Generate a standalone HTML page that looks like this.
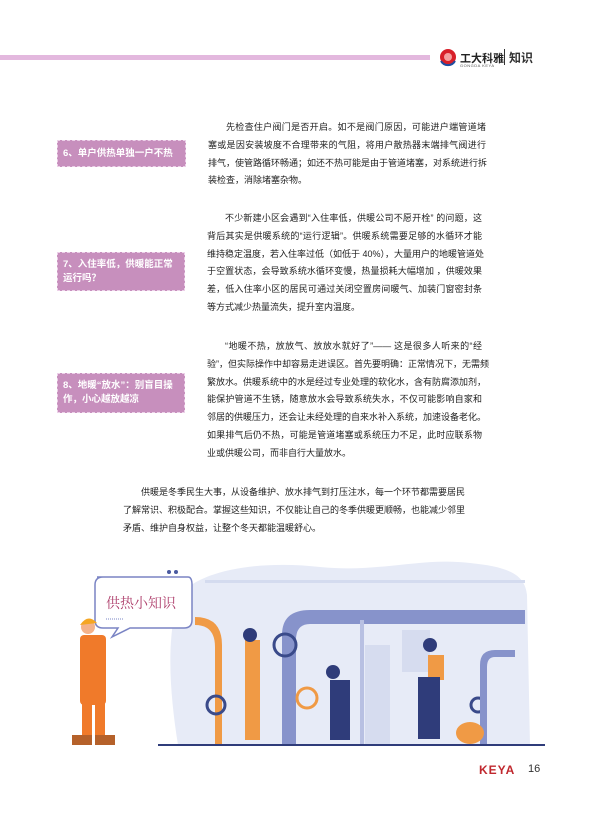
<!DOCTYPE html>
<html><head><meta charset="utf-8"><style>
body{margin:0;width:604px;height:825px;background:#fff;position:relative;overflow:hidden;font-family:"Liberation Sans","Noto Sans CJK SC",sans-serif;color:#333}
.bar{position:absolute;left:0;top:55px;width:430px;height:5px;background:#e3b8de}
.p{position:absolute;font-size:9px;line-height:17.8px;color:#222}
.p div{text-align:justify;text-align-last:justify;white-space:nowrap;overflow:visible}
.box{position:absolute;background:#c78fbd;color:#fff;font-size:9.5px;font-weight:bold;border:1.5px dashed #ecd0e8;box-sizing:border-box;padding:0 5px;line-height:14px;display:flex;align-items:center}
</style></head><body>
<div class="bar"></div>
<svg style="position:absolute;left:438px;top:46px" width="30" height="22"><circle cx="10" cy="11" r="8" fill="#d8202a"/><path d="M3 15 A8 8 0 0 0 17 15" stroke="#1f4da0" stroke-width="2" fill="none"/><circle cx="10" cy="11" r="4" fill="#f4a0a0"/></svg>
<div style="position:absolute;left:460px;top:50px;font-size:11px;font-weight:bold;color:#222">工大科雅</div>
<div style="position:absolute;left:460px;top:63px;font-size:4px;color:#555;letter-spacing:.5px">GONGDA KEYA</div>
<div style="position:absolute;left:504px;top:49px;width:1px;height:16px;background:#333"></div>
<div style="position:absolute;left:509px;top:49px;font-size:12px;font-weight:bold;color:#333">知识</div>

<div class="box" style="left:57px;top:140px;width:129px;height:27px">6、单户供热单独一户不热</div>
<div class="p" style="left:208px;top:119px;width:278px">
<div style="padding-left:18px">先检查住户阀门是否开启。如不是阀门原因，可能进户端管道堵</div>
<div>塞或是因安装坡度不合理带来的气阻，将用户散热器末端排气阀进行</div>
<div>排气，使管路循环畅通；如还不热可能是由于管道堵塞，对系统进行拆</div>
<div style="text-align-last:left">装检查，消除堵塞杂物。</div></div>

<div class="box" style="left:57px;top:252px;width:128px;height:39px">7、入住率低，供暖能正常运行吗？</div>
<div class="p" style="left:207px;top:210px;width:275px">
<div style="padding-left:18px">不少新建小区会遇到“入住率低，供暖公司不愿开栓” 的问题，这</div>
<div>背后其实是供暖系统的“运行逻辑”。供暖系统需要足够的水循环才能</div>
<div>维持稳定温度，若入住率过低（如低于 40%），大量用户的地暖管道处</div>
<div>于空置状态，会导致系统水循环变慢，热量损耗大幅增加 ，供暖效果</div>
<div>差，低入住率小区的居民可通过关闭空置房间暖气、加装门窗密封条</div>
<div style="text-align-last:left">等方式减少热量流失，提升室内温度。</div></div>

<div class="box" style="left:57px;top:373px;width:128px;height:40px">8、地暖“放水”：别盲目操作，小心越放越凉</div>
<div class="p" style="left:207px;top:338px;width:275px">
<div style="padding-left:18px">“地暖不热，放放气、放放水就好了”—— 这是很多人听来的“经</div>
<div>验”，但实际操作中却容易走进误区。首先要明确：正常情况下，无需频</div>
<div>繁放水。供暖系统中的水是经过专业处理的软化水，含有防腐添加剂，</div>
<div>能保护管道不生锈，随意放水会导致系统失水，不仅可能影响自家和</div>
<div>邻居的供暖压力，还会让未经处理的自来水补入系统，加速设备老化。</div>
<div>如果排气后仍不热，可能是管道堵塞或系统压力不足，此时应联系物</div>
<div style="text-align-last:left">业或供暖公司，而非自行大量放水。</div></div>

<div class="p" style="left:123px;top:484px;width:339px">
<div style="padding-left:18px">供暖是冬季民生大事，从设备维护、放水排气到打压注水，每一个环节都需要居民</div>
<div>了解常识、积极配合。掌握这些知识，不仅能让自己的冬季供暖更顺畅，也能减少邻里</div>
<div style="text-align-last:left">矛盾、维护自身权益，让整个冬天都能温暖舒心。</div></div>

<svg style="position:absolute;left:0;top:555px" width="604" height="200">
<path d="M180 40 C200 15 260 5 320 12 C380 18 420 2 470 8 C510 12 525 20 527 40 L530 190 L178 190 C170 140 165 80 180 40Z" fill="#e7ebf7"/>
<rect x="205" y="25" width="320" height="3" fill="#d4dbef"/>
<path d="M282 190 L282 80 Q282 55 310 55 L525 55 L525 69 L310 69 Q296 69 296 85 L296 190Z" fill="#8793cb"/>
<rect x="360" y="65" width="4" height="125" fill="#b8c0e2"/>
<rect x="365" y="90" width="25" height="100" fill="#d6dcef"/>
<rect x="402" y="75" width="28" height="42" fill="#d6dcef"/>
<path d="M195 62 Q222 62 222 90 L222 190 L215 190 L215 92 Q215 70 195 70Z" fill="#f09a45"/>
<circle cx="216" cy="150" r="9" fill="none" stroke="#3a4a8a" stroke-width="3"/>
<circle cx="285" cy="90" r="11" fill="none" stroke="#3a4a8a" stroke-width="3"/>
<circle cx="307" cy="143" r="10" fill="none" stroke="#f09a45" stroke-width="3"/>
<circle cx="478" cy="150" r="7" fill="none" stroke="#3a4a8a" stroke-width="3"/>
<path d="M480 190 L480 110 Q480 95 495 95 L515 95 L515 102 L495 102 Q487 102 487 112 L487 190Z" fill="#8793cb"/>
<rect x="245" y="85" width="15" height="100" fill="#f09a45"/><circle cx="250" cy="80" r="7" fill="#2f3c7a"/>
<rect x="330" y="125" width="20" height="60" fill="#2f3c7a"/><circle cx="333" cy="117" r="7" fill="#2f3c7a"/>
<rect x="428" y="100" width="16" height="25" fill="#f09a45"/><rect x="418" y="122" width="22" height="62" fill="#2f3c7a"/><circle cx="430" cy="90" r="7" fill="#2f3c7a"/>
<ellipse cx="470" cy="178" rx="14" ry="11" fill="#f09a45"/>
<rect x="158" y="189" width="387" height="2" fill="#2f3c7a"/>
<path d="M97 22 L188 22 Q192 22 192 30 L192 65 Q192 73 184 73 L130 73 L112 82 L118 73 L103 73 Q95 73 95 65 L95 30 Q95 22 103 22Z" fill="#fff" stroke="#7a84c4" stroke-width="1.5"/>
<circle cx="169" cy="17" r="2" fill="#4a5aa0"/><circle cx="176" cy="17" r="2" fill="#4a5aa0"/>
<text x="106" y="53" font-size="14" fill="#b0436f" font-family="Noto Serif CJK SC,serif">供热小知识</text>
<line x1="106" y1="64" x2="124" y2="64" stroke="#7a84c4" stroke-dasharray="1,1"/>
<rect x="80" y="80" width="26" height="70" rx="4" fill="#f07a2a"/><circle cx="88" cy="72" r="7" fill="#f4b28a"/><path d="M80 70 Q88 58 97 68Z" fill="#f5a623"/>
<rect x="82" y="148" width="10" height="35" fill="#f07a2a"/><rect x="95" y="148" width="10" height="35" fill="#f07a2a"/>
<rect x="72" y="180" width="20" height="10" fill="#b5612a"/><rect x="95" y="180" width="20" height="10" fill="#b5612a"/>
</svg>
<div style="position:absolute;left:479px;top:763px;font-size:12px;font-weight:bold;color:#c0282e;letter-spacing:1px">KEYA</div>
<div style="position:absolute;left:528px;top:763px;font-size:11px;color:#333">16</div>
</body></html>
